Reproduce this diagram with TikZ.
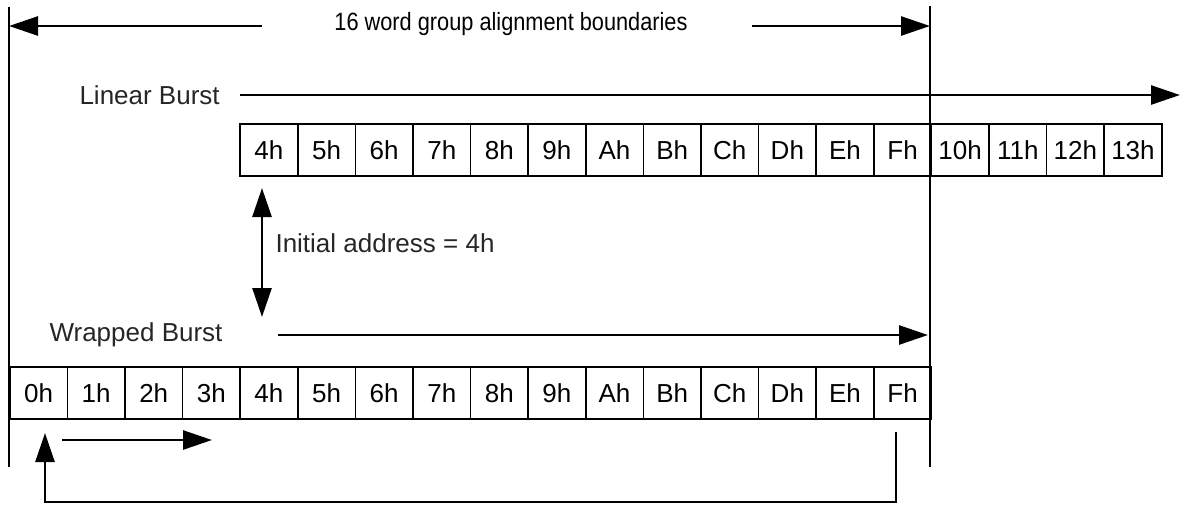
\documentclass[tikz,border=0pt]{standalone}
\usepackage{fontspec}
\setmainfont{Liberation Sans}
\newfontfamily\narrowfont[FakeStretch=0.87]{Liberation Sans}
\usetikzlibrary{arrows.meta}
\begin{document}
\begin{tikzpicture}[x=1pt,y=-1pt]
        \tikzstyle{every node}=[font=\fontsize{26}{30}\selectfont, text=black!85]
        \tikzstyle{cell}=[draw, line width=1.5pt, minimum width=57.6pt, minimum height=52pt, inner sep=0pt, anchor=north west, text=black]
        \tikzstyle{bigarrow}=[line width=2.6pt, -{Triangle[length=29pt,width=19pt]}]
        \tikzstyle{boundary}=[line width=1.4pt]
        \useasboundingbox (0,0) rectangle (1180,504);
        \coordinate (bltop) at (9,7); \coordinate (blbot) at (9,467);
        \coordinate (brtop) at (930,6); \coordinate (brbot) at (930,467);
        \draw[boundary] (bltop) -- (blbot);
        \draw[boundary] (brtop) -- (brbot);
        \node[font=\narrowfont\fontsize{25}{30}\selectfont, text=black] (title) at (511,24) {16 word group alignment boundaries};
        \coordinate (tl) at (262,26); \coordinate (tr) at (752,26);
        \draw[bigarrow] (tl) -- (bltop |- tl);
        \draw[bigarrow] (tr) -- (brtop |- tr);
        \node[anchor=west] (linear) at (76,95) {Linear Burst};
        \coordinate (ls) at (240,95); \coordinate (le) at (1180,95);
        \draw[bigarrow] (ls) -- (le);
        \foreach \i/\t in {4/4h,5/5h,6/6h,7/7h,8/8h,9/9h,10/Ah,11/Bh,12/Ch,13/Dh,14/Eh,15/Fh,16/10h,17/11h,18/12h,19/13h}
            \node[cell] (l\i) at ({9+57.6*\i},123) {\t};
        \coordinate (ia) at (262,188); \coordinate (ib) at (262,317);
        \draw[bigarrow, {Triangle[length=29pt,width=19pt]}-{Triangle[length=29pt,width=19pt]}] (ia) -- (ib);
        \node[anchor=west] (init) at (272,243) {Initial address = 4h};
        \node[anchor=west] (wrapped) at (46,335) {Wrapped Burst};
        \coordinate (ws) at (278,335); \coordinate (we) at (928,335);
        \draw[bigarrow] (ws) -- (we);
        \foreach \i/\t in {0/0h,1/1h,2/2h,3/3h,4/4h,5/5h,6/6h,7/7h,8/8h,9/9h,10/Ah,11/Bh,12/Ch,13/Dh,14/Eh,15/Fh}
            \node[cell] (w\i) at ({9+57.6*\i},366) {\t};
        \coordinate (ss) at (62,440); \coordinate (se) at (212,440);
        \draw[bigarrow] (ss) -- (se);
        \coordinate (ra) at (896,432); \coordinate (rb) at (896,502);
        \coordinate (rc) at (45,502); \coordinate (rd) at (45,433);
        \draw[bigarrow] (ra) -- (rb) -- (rc) -- (rd);
\end{tikzpicture}
\end{document}
